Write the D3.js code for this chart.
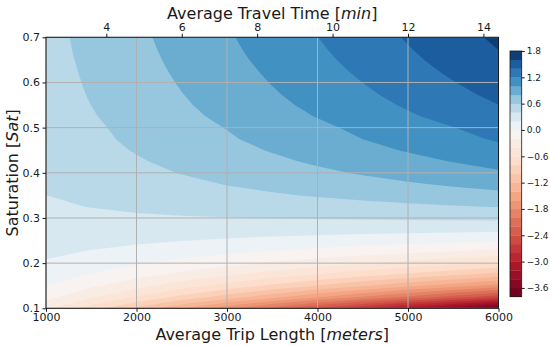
<!DOCTYPE html>
<html>
<head>
<meta charset="utf-8">
<script src="https://cdn.jsdelivr.net/npm/d3@7"></script>
<style>
body { margin: 0; background: #fff; }
svg { display: block; font-family: "DejaVu Sans", sans-serif; }
</style>
</head>
<body>
<div id="chart"></div>
<script>
// grid of the contour field
const tripLength = [1000, 1500, 2000, 2500, 3000, 3500, 4000, 4500, 5000, 5500, 6000];
const saturation = [0.1, 0.125, 0.15, 0.175, 0.2, 0.225, 0.25, 0.275, 0.3, 0.325, 0.35, 0.375,
  0.4, 0.425, 0.45, 0.475, 0.5, 0.525, 0.55, 0.575, 0.6, 0.625, 0.65, 0.675, 0.7];
// one row per saturation value, one column per trip length
const values = [
  [-0.350, -0.695, -1.040, -1.385, -1.730, -2.075, -2.420, -2.765, -3.110, -3.455, -3.780],
  [-0.138, -0.377, -0.616, -0.855, -1.094, -1.333, -1.572, -1.811, -2.050, -2.289, -2.528],
  [ 0.003, -0.165, -0.333, -0.502, -0.670, -0.839, -1.007, -1.175, -1.344, -1.512, -1.680],
  [ 0.104, -0.014, -0.131, -0.249, -0.367, -0.485, -0.603, -0.721, -0.839, -0.956, -1.074],
  [ 0.180,  0.100,  0.020, -0.060, -0.140, -0.220, -0.300, -0.380, -0.460, -0.540, -0.620],
  [ 0.239,  0.188,  0.138,  0.087,  0.037, -0.014, -0.064, -0.115, -0.166, -0.216, -0.267],
  [ 0.286,  0.259,  0.232,  0.205,  0.178,  0.151,  0.124,  0.097,  0.070,  0.043,  0.016],
  [ 0.325,  0.319,  0.314,  0.306,  0.299,  0.291,  0.283,  0.275,  0.268,  0.260,  0.252],
  [ 0.352,  0.364,  0.376,  0.387,  0.395,  0.404,  0.412,  0.420,  0.429,  0.437,  0.445],
  [ 0.377,  0.404,  0.430,  0.454,  0.476,  0.498,  0.520,  0.542,  0.564,  0.586,  0.608],
  [ 0.399,  0.438,  0.475,  0.511,  0.546,  0.580,  0.613,  0.647,  0.681,  0.714,  0.748],
  [ 0.421,  0.469,  0.516,  0.561,  0.607,  0.651,  0.694,  0.738,  0.782,  0.825,  0.869],
  [ 0.441,  0.498,  0.553,  0.607,  0.660,  0.713,  0.765,  0.818,  0.870,  0.923,  0.975],
  [ 0.458,  0.521,  0.583,  0.645,  0.705,  0.765,  0.825,  0.886,  0.946,  1.006,  1.067],
  [ 0.473,  0.542,  0.611,  0.678,  0.745,  0.812,  0.880,  0.947,  1.014,  1.081,  1.148],
  [ 0.486,  0.560,  0.634,  0.707,  0.780,  0.854,  0.927,  1.001,  1.074,  1.147,  1.221],
  [ 0.494,  0.572,  0.650,  0.728,  0.806,  0.884,  0.962,  1.040,  1.118,  1.196,  1.274],
  [ 0.504,  0.588,  0.672,  0.756,  0.840,  0.924,  1.008,  1.093,  1.177,  1.261,  1.345],
  [ 0.512,  0.601,  0.690,  0.778,  0.867,  0.956,  1.044,  1.133,  1.222,  1.310,  1.399],
  [ 0.519,  0.612,  0.704,  0.797,  0.890,  0.983,  1.076,  1.169,  1.262,  1.354,  1.447],
  [ 0.524,  0.621,  0.718,  0.814,  0.911,  1.008,  1.104,  1.201,  1.298,  1.394,  1.491],
  [ 0.529,  0.630,  0.730,  0.830,  0.930,  1.030,  1.131,  1.231,  1.331,  1.431,  1.531],
  [ 0.535,  0.638,  0.742,  0.845,  0.949,  1.052,  1.156,  1.259,  1.363,  1.466,  1.569],
  [ 0.539,  0.646,  0.752,  0.859,  0.965,  1.072,  1.178,  1.285,  1.391,  1.498,  1.604],
  [ 0.543,  0.652,  0.761,  0.871,  0.980,  1.089,  1.198,  1.308,  1.417,  1.526,  1.636]
];
const levels = [-3.8, -3.6, -3.4, -3.2, -3.0, -2.8, -2.6, -2.4, -2.2, -2.0, -1.8, -1.6, -1.4, -1.2,
  -1.0, -0.8, -0.6, -0.4, -0.2, 0.0, 0.2, 0.4, 0.6, 0.8, 1.0, 1.2, 1.4, 1.6, 1.8];
const xTicks = [1000, 2000, 3000, 4000, 5000, 6000];
const yTicks = [0.1, 0.2, 0.3, 0.4, 0.5, 0.6, 0.7];
const travelTime = [2.4, 14.4];          // minutes at 1000 m and 6000 m
const topTicks = [4, 6, 8, 10, 12, 14];
const cbTicks = [1.8, 1.2, 0.6, 0.0, -0.6, -1.2, -1.8, -2.4, -3.0, -3.6];

const width = 550, height = 346;
const margin = {top: 37.3, right: 51.5, bottom: 37.7, left: 46};
const font = "DejaVu Sans";

const x = d3.scaleLinear().domain([1000, 6000]).range([margin.left, width - margin.right]);
const y = d3.scaleLinear().domain([0.1, 0.7]).range([height - margin.bottom, margin.top]);
const xTop = d3.scaleLinear().domain(travelTime).range(x.range());

// matplotlib RdBu, centred on zero
const rdbu = d3.scaleLinear()
    .domain(d3.range(11).map(i => i / 10))
    .range(["#67001f", "#b2182b", "#d6604d", "#f4a582", "#fddbc7", "#f7f7f7",
            "#d1e5f0", "#92c5de", "#4393c3", "#2166ac", "#053061"]);
const vmin = levels[0], vmax = levels[levels.length - 1];
const norm = v => v < 0 ? 0.5 - 0.5 * v / vmin : 0.5 + 0.5 * v / vmax;
const bandColor = i => rdbu(norm((levels[i] + levels[i + 1]) / 2));

const svg = d3.select("#chart").append("svg")
    .attr("width", width)
    .attr("height", height);

svg.append("clipPath").attr("id", "plot")
  .append("rect")
    .attr("x", x.range()[0]).attr("y", y.range()[1])
    .attr("width", x.range()[1] - x.range()[0])
    .attr("height", y.range()[0] - y.range()[1]);

// filled contours
const nx = tripLength.length, ny = saturation.length;
const gx = d3.scaleLinear().domain([0.5, nx - 0.5]).range([x(tripLength[0]), x(tripLength[nx - 1])]);
const gy = d3.scaleLinear().domain([0.5, ny - 0.5]).range([y(saturation[0]), y(saturation[ny - 1])]);
const path = d3.geoPath(d3.geoTransform({
  point(px, py) { this.stream.point(gx(px), gy(py)); }
}));
const contours = d3.contours().size([nx, ny]).thresholds(levels)(values.flat());

const field = svg.append("g").attr("clip-path", "url(#plot)");
field.append("rect")
    .attr("x", x.range()[0]).attr("y", y.range()[1])
    .attr("width", x.range()[1] - x.range()[0])
    .attr("height", y.range()[0] - y.range()[1])
    .attr("fill", bandColor(0));
field.selectAll("path")
  .data(contours.slice(0, levels.length - 1))
  .join("path")
    .attr("d", path)
    .attr("fill", (d, i) => bandColor(i));

// grid
const grid = svg.append("g").attr("stroke", "#b0b0b0").attr("stroke-width", 1);
grid.selectAll("line.v").data(xTicks).join("line").attr("class", "v")
    .attr("x1", d => x(d)).attr("x2", d => x(d))
    .attr("y1", y.range()[0]).attr("y2", y.range()[1]);
grid.selectAll("line.h").data(yTicks).join("line").attr("class", "h")
    .attr("x1", x.range()[0]).attr("x2", x.range()[1])
    .attr("y1", d => y(d)).attr("y2", d => y(d));

// axes
function style(g, size) {
  g.attr("font-family", font).attr("font-size", size).attr("color", "#1a1a1a");
  g.select(".domain").remove();
  g.selectAll("text").attr("fill", "#1a1a1a");
}
svg.append("g")
    .attr("transform", `translate(0,${y.range()[0]})`)
    .call(d3.axisBottom(x).tickValues(xTicks).tickSize(3.5).tickPadding(1.5).tickFormat(d3.format("d")))
    .call(g => style(g, 11));
svg.append("g")
    .attr("transform", `translate(${x.range()[0]},0)`)
    .call(d3.axisLeft(y).tickValues(yTicks).tickSize(3.5).tickPadding(2.5).tickFormat(d3.format(".1f")))
    .call(g => style(g, 11));
svg.append("g")
    .attr("transform", `translate(0,${y.range()[1]})`)
    .call(d3.axisTop(xTop).tickValues(topTicks).tickSize(3.5).tickPadding(2.5).tickFormat(d3.format("d")))
    .call(g => style(g, 11));

// frame
svg.append("rect")
    .attr("x", x.range()[0]).attr("y", y.range()[1])
    .attr("width", x.range()[1] - x.range()[0])
    .attr("height", y.range()[0] - y.range()[1])
    .attr("fill", "none").attr("stroke", "#1a1a1a").attr("stroke-width", 1);

// axis labels
const label = (txt, ital, tail) => sel => {
  sel.append("tspan").text(txt);
  sel.append("tspan").attr("font-style", "italic").text(ital);
  sel.append("tspan").text(tail);
};
svg.append("text")
    .attr("x", (x.range()[0] + x.range()[1]) / 2).attr("y", 18.5)
    .attr("text-anchor", "middle").attr("font-size", 16).attr("fill", "#1a1a1a")
    .call(label("Average Travel Time [", "min", "]"));
svg.append("text")
    .attr("x", (x.range()[0] + x.range()[1]) / 2).attr("y", 339.5)
    .attr("text-anchor", "middle").attr("font-size", 16).attr("fill", "#1a1a1a")
    .call(label("Average Trip Length [", "meters", "]"));
svg.append("text")
    .attr("transform", `translate(17.5,${(y.range()[0] + y.range()[1]) / 2}) rotate(-90)`)
    .attr("text-anchor", "middle").attr("font-size", 16).attr("fill", "#1a1a1a")
    .call(label("Saturation [", "Sat", "]"));

// colorbar
const cb = d3.scaleLinear().domain([vmin, vmax]).range([296.7, 51]);
const cbX = 510, cbW = 11.7;
svg.append("g").selectAll("rect")
  .data(d3.range(levels.length - 1))
  .join("rect")
    .attr("x", cbX).attr("width", cbW)
    .attr("y", i => cb(levels[i + 1]))
    .attr("height", i => cb(levels[i]) - cb(levels[i + 1]) + 0.3)
    .attr("fill", i => bandColor(i));
svg.append("rect")
    .attr("x", cbX).attr("y", cb.range()[1])
    .attr("width", cbW).attr("height", cb.range()[0] - cb.range()[1])
    .attr("fill", "none").attr("stroke", "#1a1a1a").attr("stroke-width", 0.8);
svg.append("g")
    .attr("transform", `translate(${cbX + cbW},0)`)
    .call(d3.axisRight(cb).tickValues(cbTicks).tickSize(3).tickPadding(2).tickFormat(d3.format(".1f")))
    .call(g => style(g, 9));
</script>
</body>
</html>
